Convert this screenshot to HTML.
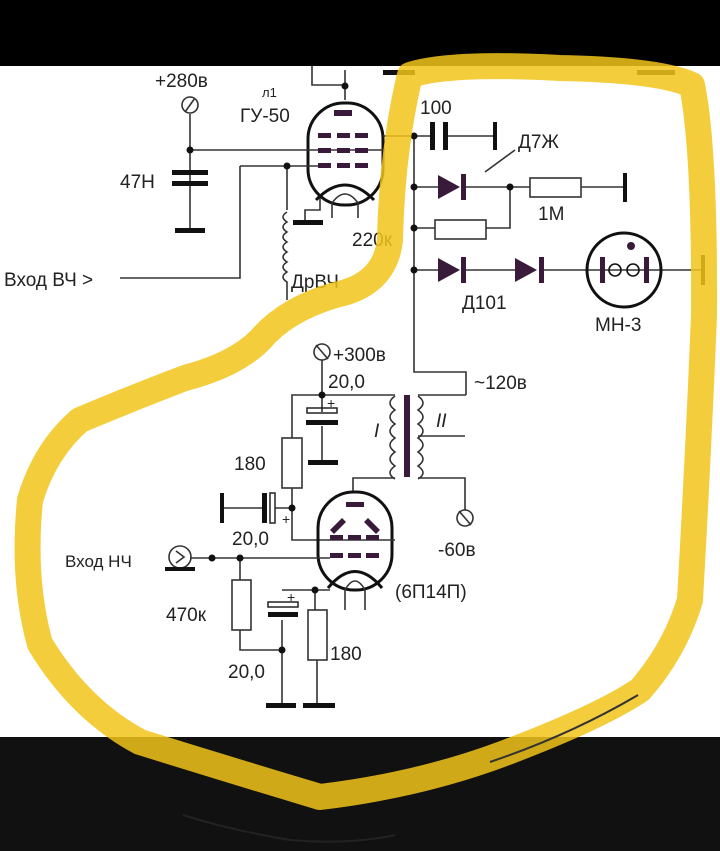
<!DOCTYPE html>
<html><head><meta charset="utf-8"><style>
html,body{margin:0;padding:0;background:#fff;}
svg{display:block;}
text{font-family:"Liberation Sans","DejaVu Sans",sans-serif;fill:#222;}
</style></head><body>
<svg width="720" height="851" viewBox="0 0 720 851" xmlns="http://www.w3.org/2000/svg">
<rect x="0" y="0" width="720" height="851" fill="#fff"/>
<rect x="0" y="0" width="720" height="66" fill="#000"/>
<rect x="0" y="737" width="720" height="114" fill="#111"/>
<path d="M183 815 Q230 830 290 840 Q350 845 395 835" stroke="#222" stroke-width="2" fill="none"/>
<g stroke="#333" stroke-width="1.6" fill="none">
<rect x="308" y="103" width="75" height="102" rx="36" stroke="#111" stroke-width="3"/>
<path d="M316 200 Q345 170 374 200" stroke="#111" stroke-width="3"/>
<path d="M332 218 V203 Q345 185 358 203 V218"/>
<path d="M345 100 V70 M312 66 V85 H345"/>
<path d="M383 136 H414 M190 150 H385 M240 166 H330 M240 166 V278 H120"/>
<path d="M320 198 V210 H305 V222"/>
<path d="M287 166 V210"/>
<path d="M287 212 q-8 5 0 10 q-8 5 0 10 q-8 5 0 10 q-8 5 0 10 q-8 5 0 10 q-8 5 0 10 q-8 5 0 10 V300"/>
<path d="M190 114 V230 M195 98 l-10 14"/>
<circle cx="190" cy="105" r="8"/>
<path d="M414 136 V372 H466 V395 M414 136 H430 M448 136 H495"/>
<path d="M414 187 H438 M463 187 H530 M581 187 H625 M510 187 V228 H486 M414 228 H435"/>
<rect x="530" y="178" width="51" height="19"/>
<rect x="435" y="220" width="51" height="19"/>
<path d="M414 270 H438 M463 270 H515 M541 270 H703"/>
<path d="M515 150 L485 172"/>
<circle cx="624" cy="270" r="37" stroke="#111" stroke-width="3"/>
<circle cx="615" cy="270" r="6" stroke="#111"/>
<circle cx="633" cy="270" r="6" stroke="#111"/>
<path d="M322 360 V412 M322 395 H292 V438 M292 488 V540 H330 M322 426 V462 M292 508 H275 M263 508 H222"/>
<path d="M322 395 H395 M395 478 H353 V492 M466 395 H418 M418 436 H465 M418 478 H465 V510"/>
<path d="M395 396 q-10 7 0 14 q-10 7 0 14 q-10 7 0 14 q-10 7 0 14 q-10 7 0 14 q-10 7 0 13"/>
<path d="M418 396 q10 7 0 14 q10 7 0 14 q10 7 0 14 q10 7 0 14 q10 7 0 14 q10 7 0 13"/>
<rect x="282" y="438" width="20" height="50"/>
<circle cx="322" cy="352" r="8"/><path d="M316 345 l12 14"/>
<circle cx="465" cy="518" r="8"/><path d="M459 511 l12 14"/>
<rect x="318" y="492" width="74" height="98" rx="36" stroke="#111" stroke-width="3"/>
<path d="M328 588 Q355 555 382 588" stroke="#111" stroke-width="3"/>
<path d="M345 610 V590 Q355 572 365 590 V610"/>
<path d="M330 540 H395 M190 558 H330 M240 558 V580 M240 630 V650 H282 M282 620 V705 M282 590 H330 M315 590 V610 M317 660 V705"/>
<rect x="232" y="580" width="19" height="50"/>
<rect x="308" y="610" width="19" height="50"/>
<circle cx="180" cy="557" r="11"/><path d="M176 551 l8 6 l-8 6"/>
</g>
<g fill="#111" stroke="none">
<rect x="334" y="110" width="18" height="6" fill="#3a1a3a"/>
<g fill="#3a1a3a">
<rect x="318" y="133" width="13" height="5"/><rect x="337" y="133" width="13" height="5"/><rect x="355" y="133" width="13" height="5"/>
<rect x="318" y="148" width="13" height="5"/><rect x="337" y="148" width="13" height="5"/><rect x="355" y="148" width="13" height="5"/>
<rect x="318" y="163" width="13" height="5"/><rect x="337" y="163" width="13" height="5"/><rect x="355" y="163" width="13" height="5"/>
<rect x="346" y="502" width="18" height="5"/>
<rect x="330" y="535" width="13" height="5"/><rect x="348" y="535" width="13" height="5"/><rect x="366" y="535" width="13" height="5"/>
<rect x="330" y="553" width="13" height="5"/><rect x="348" y="553" width="13" height="5"/><rect x="366" y="553" width="13" height="5"/>
<path d="M330 530 l12 -12 l4 4 l-12 12z M380 530 l-12 -12 l-4 4 l12 12z"/>
<path d="M438 175 L460 187 L438 199z"/><rect x="461" y="174" width="5" height="26"/>
<path d="M438 258 L460 270 L438 282z"/><rect x="461" y="257" width="5" height="26"/>
<path d="M515 258 L537 270 L515 282z"/><rect x="539" y="257" width="5" height="26"/>
<rect x="600" y="257" width="5" height="26"/><rect x="644" y="257" width="5" height="26"/>
<circle cx="631" cy="246" r="4"/>
<rect x="404" y="395" width="6" height="82" fill="#3a1a3a"/>
</g>
<rect x="383" y="70" width="32" height="5"/><rect x="637" y="70" width="38" height="5"/>
<rect x="172" y="170" width="36" height="5"/><rect x="172" y="181" width="36" height="5"/>
<rect x="175" y="228" width="30" height="5"/>
<rect x="293" y="220" width="30" height="5"/>
<rect x="430" y="122" width="5" height="28"/><rect x="443" y="122" width="5" height="28"/>
<rect x="493" y="122" width="4" height="28"/>
<rect x="623" y="173" width="4" height="29"/>
<rect x="701" y="255" width="4" height="30"/>
<rect x="306" y="420" width="32" height="5"/><rect x="308" y="460" width="30" height="5"/>
<rect x="220" y="493" width="4" height="30"/><rect x="262" y="493" width="5" height="30"/>
<rect x="165" y="567" width="30" height="4"/>
<rect x="268" y="612" width="30" height="5"/>
<rect x="266" y="703" width="30" height="5"/><rect x="303" y="703" width="32" height="5"/>
<g>
<circle cx="190" cy="150" r="3.5"/><circle cx="287" cy="166" r="3.5"/><circle cx="345" cy="86" r="3.5"/>
<circle cx="414" cy="136" r="3.5"/><circle cx="414" cy="187" r="3.5"/><circle cx="414" cy="228" r="3.5"/><circle cx="414" cy="270" r="3.5"/>
<circle cx="510" cy="187" r="3.5"/><circle cx="322" cy="395" r="3.5"/><circle cx="292" cy="508" r="3.5"/>
<circle cx="212" cy="558" r="3.5"/><circle cx="240" cy="558" r="3.5"/><circle cx="282" cy="650" r="3.5"/><circle cx="315" cy="590" r="3.5"/>
</g>
</g>
<g fill="none" stroke="#222" stroke-width="1.5">
<rect x="270" y="493" width="5" height="30"/>
<rect x="307" y="408" width="30" height="5"/>
<rect x="268" y="602" width="30" height="5"/>
</g>
<g font-size="19">
<text x="155" y="87">+280в</text>
<text x="262" y="97" font-size="13">л1</text>
<text x="240" y="122">ГУ-50</text>
<text x="120" y="188">47Н</text>
<text x="352" y="246">220к</text>
<text x="4" y="286">Вход ВЧ &gt;</text>
<text x="291" y="288">ДрВЧ</text>
<text x="420" y="114">100</text>
<text x="518" y="148">Д7Ж</text>
<text x="538" y="220">1М</text>
<text x="462" y="309">Д101</text>
<text x="595" y="331">МН-3</text>
<text x="333" y="361">+300в</text>
<text x="328" y="388">20,0</text>
<text x="474" y="389">~120в</text>
<text x="374" y="437" font-style="italic">I</text>
<text x="436" y="427" font-style="italic">II</text>
<text x="234" y="470">180</text>
<text x="232" y="545">20,0</text>
<text x="438" y="556">-60в</text>
<text x="65" y="567" font-size="17">Вход НЧ</text>
<text x="395" y="598">(6П14П)</text>
<text x="166" y="621">470к</text>
<text x="330" y="660">180</text>
<text x="228" y="678">20,0</text>
<text x="327" y="408" font-size="14">+</text>
<text x="282" y="524" font-size="14">+</text>
<text x="287" y="602" font-size="14">+</text>
</g>
<path d="M410 75 Q450 62 560 68 Q660 70 692 85 Q705 150 704 316 Q698 460 690 600 Q675 650 640 690 Q600 717 505 753 Q420 785 320 797 Q230 770 140 742 Q80 710 40 644 Q22 580 30 500 Q45 450 80 420 Q140 395 185 378 Q235 365 260 340 Q285 310 335 295 Q385 285 390 240 Q392 150 410 75 Z" fill="none" stroke="#f2c41a" stroke-opacity="0.85" stroke-width="26" stroke-linejoin="round"/>
<path d="M490 762 Q570 735 638 695" stroke="#333" stroke-width="2" fill="none"/>
</svg>
</body></html>
